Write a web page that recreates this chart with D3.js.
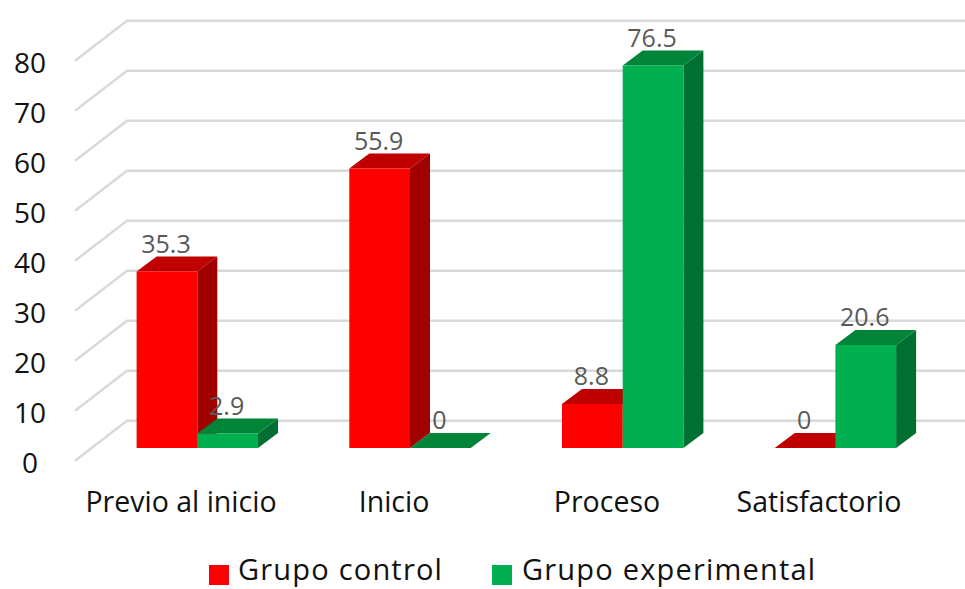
<!DOCTYPE html>
<html>
<head>
  <script src="https://cdn.jsdelivr.net/npm/d3@7"></script>
  <style>
    html, body { margin: 0; background: #fff; overflow: hidden; }
    svg { display: block; }
    text { font-family: "Open Sans", sans-serif; }
  </style>
</head>
<body>
<script>
const categories = ['Previo al inicio', 'Inicio', 'Proceso', 'Satisfactorio'];
const seriesNames = ['Grupo control', 'Grupo experimental'];
const control = [35.3, 55.9, 8.8, 0];
const experimental = [2.9, 0, 76.5, 20.6];
const yTicks = [0, 10, 20, 30, 40, 50, 60, 70, 80];

const svg = d3.select('body').append('svg').attr('width', 965).attr('height', 589);

// 3d offset of the back wall and of the bar depth
const wallDx = 52, wallDy = -40;
const depthDx = 20, depthDy = -15;

const y = d3.scaleLinear().domain([0, 80]).range([460.7, 60.7]);
const barW = 60.7;
const pairStep = 212.7;
const firstCenter = 197.3;

const colors = [
  { front: '#ff0000', top: '#bf0000', side: '#a00000' },
  { front: '#00b050', top: '#008437', side: '#006f32' }
];

// grid: floor/wall lines
const grid = svg.append('g');
yTicks.forEach(t => {
  grid.append('path')
    .attr('fill', 'none').attr('stroke', '#d9d9d9').attr('stroke-width', 2.4)
    .attr('d', `M75,${y(t)}L${75 + wallDx},${y(t) + wallDy}L965,${y(t) + wallDy}`);
});

// y tick labels
svg.append('g').selectAll('text').data(yTicks).join('text')
  .attr('x', 30).attr('y', d => y(d) + 2)
  .attr('dy', '0.36em')
  .attr('text-anchor', 'middle')
  .attr('font-size', 28).attr('fill', '#111')
  .text(d => d);

// bars stand about 13px above the tick position of the same value
const base = y(0) - 12.7;
const valueY = v => y(v) - 12.7;

function drawBar(g, left, v, c) {
  const top = valueY(v);
  const w = barW;
  g.append('polygon').attr('fill', c.side)
    .attr('points', [[left + w, top], [left + w + depthDx, top + depthDy], [left + w + depthDx, base + depthDy], [left + w, base]].join(' '));
  g.append('polygon').attr('fill', c.top)
    .attr('points', [[left, top], [left + depthDx, top + depthDy], [left + w + depthDx, top + depthDy], [left + w, top]].join(' '));
  g.append('rect').attr('fill', c.front)
    .attr('x', left).attr('y', top).attr('width', w).attr('height', base - top);
}

const bars = svg.append('g');
categories.forEach((cat, i) => {
  const cx = firstCenter + i * pairStep;
  drawBar(bars, cx - barW, control[i], colors[0]);
  drawBar(bars, cx, experimental[i], colors[1]);
});

const labels = svg.append('g');
categories.forEach((cat, i) => {
  const cx = firstCenter + i * pairStep;
  [[control[i], cx - barW / 2 - 1], [experimental[i], cx + barW / 2 - 1]].forEach(([v, lx]) => {
    labels.append('text')
      .attr('x', lx).attr('y', valueY(v) - 19)
      .attr('text-anchor', 'middle')
      .attr('font-size', 25).attr('fill', '#595959')
      .text(v);
  });
  svg.append('text')
    .attr('x', [181, 394, 607, 819][i]).attr('y', 512)
    .attr('text-anchor', 'middle')
    .attr('font-size', 28.5).attr('fill', '#111')
    .text(cat);
});

// legend, text kept just inside the bottom edge
const legendX = [209, 492], legendText = [238, 522];
seriesNames.forEach((n, i) => {
  svg.append('rect').attr('x', legendX[i]).attr('y', 565).attr('width', 20).attr('height', 20).attr('fill', colors[i].front);
  svg.append('text').attr('x', legendText[i]).attr('y', 580)
    .attr('font-size', 29).attr('fill', '#111').attr('letter-spacing', 1.2).text(n);
});
</script>
</body>
</html>
